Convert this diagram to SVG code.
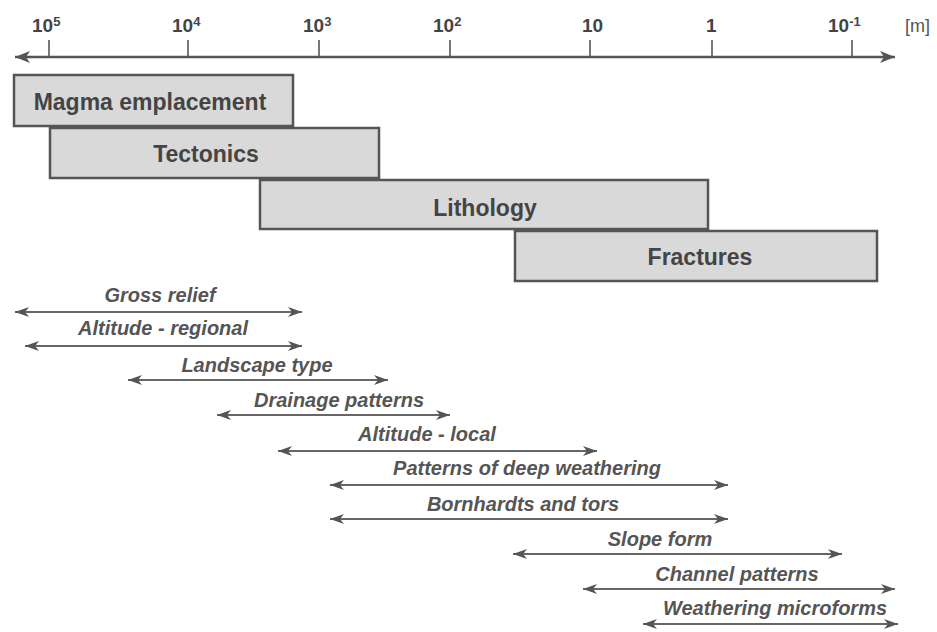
<svg xmlns="http://www.w3.org/2000/svg" width="937" height="632" viewBox="0 0 937 632">
<style>
.axl{font-family:"Liberation Sans",Arial,sans-serif;font-weight:bold;font-size:19px;fill:#444}
.sup{font-size:13px}
.unit{font-family:"Liberation Sans",Arial,sans-serif;font-size:18px;fill:#555}
.box{fill:#d9d9d9;stroke:#555;stroke-width:2.5}
.bl{font-family:"Liberation Sans",Arial,sans-serif;font-weight:bold;font-size:23px;fill:#444;text-anchor:middle}
.al{font-family:"Liberation Sans",Arial,sans-serif;font-weight:bold;font-style:italic;font-size:20px;fill:#555;text-anchor:middle}
.rng{stroke:#666;stroke-width:2;fill:none;marker-start:url(#ah);marker-end:url(#ah)}
.tick{stroke:#555;stroke-width:1.6}
</style>
<defs>
<marker id="ah" markerUnits="userSpaceOnUse" markerWidth="15" markerHeight="12" refX="14" refY="5" orient="auto-start-reverse" viewBox="0 0 15 10">
<path d="M0,0 L14,5 L0,10 L4,5 z" fill="#555"/>
</marker>
<marker id="axh" markerUnits="userSpaceOnUse" markerWidth="16" markerHeight="14" refX="15" refY="6" orient="auto-start-reverse" viewBox="0 0 16 12">
<path d="M0,0 L15,6 L0,12 L4,6 z" fill="#555"/>
</marker>
</defs>
<g id="axis">
<line x1="15" y1="57" x2="895" y2="57" stroke="#555" stroke-width="2.5" marker-start="url(#axh)" marker-end="url(#axh)"/>
<line class="tick" x1="49" y1="40" x2="49" y2="57"/>
<line class="tick" x1="188" y1="40" x2="188" y2="57"/>
<line class="tick" x1="319" y1="40" x2="319" y2="57"/>
<line class="tick" x1="450" y1="40" x2="450" y2="57"/>
<line class="tick" x1="590" y1="40" x2="590" y2="57"/>
<line class="tick" x1="712" y1="40" x2="712" y2="57"/>
<line class="tick" x1="852" y1="40" x2="852" y2="57"/>
<text class="axl" x="32" y="32">10<tspan class="sup" dy="-6">5</tspan></text>
<text class="axl" x="172" y="32">10<tspan class="sup" dy="-6">4</tspan></text>
<text class="axl" x="303" y="32">10<tspan class="sup" dy="-6">3</tspan></text>
<text class="axl" x="433" y="32">10<tspan class="sup" dy="-6">2</tspan></text>
<text class="axl" x="582" y="32">10</text>
<text class="axl" x="706" y="32">1</text>
<text class="axl" x="828" y="32">10<tspan class="sup" dy="-6">-1</tspan></text>
<text class="unit" x="905" y="32">[m]</text>
</g>
<g id="magma">
<rect class="box" x="14" y="75" width="279" height="51"/>
<text class="bl" x="150" y="110">Magma emplacement</text>
</g>
<g id="tectonics">
<rect class="box" x="50" y="128" width="329" height="50"/>
<text class="bl" x="206" y="162">Tectonics</text>
</g>
<g id="lithology">
<rect class="box" x="260" y="180" width="448" height="49"/>
<text class="bl" x="485" y="216">Lithology</text>
</g>
<g id="fractures">
<rect class="box" x="515" y="231" width="362" height="50"/>
<text class="bl" x="700" y="265">Fractures</text>
</g>
<g id="connectors">
<line class="rng" x1="15" y1="312" x2="302" y2="312"/>
<line class="rng" x1="25" y1="346" x2="302" y2="346"/>
<line class="rng" x1="128" y1="380" x2="388" y2="380"/>
<line class="rng" x1="217" y1="415" x2="450" y2="415"/>
<line class="rng" x1="278" y1="451" x2="597" y2="451"/>
<line class="rng" x1="330" y1="485" x2="728" y2="485"/>
<line class="rng" x1="330" y1="519" x2="728" y2="519"/>
<line class="rng" x1="513" y1="554" x2="842" y2="554"/>
<line class="rng" x1="583" y1="589" x2="895" y2="589"/>
<line class="rng" x1="643" y1="624" x2="898" y2="624"/>
</g>
<g id="range-labels">
<text class="al" x="160" y="302">Gross relief</text>
<text class="al" x="163" y="335">Altitude - regional</text>
<text class="al" x="257" y="372">Landscape type</text>
<text class="al" x="339" y="407">Drainage patterns</text>
<text class="al" x="427" y="441">Altitude - local</text>
<text class="al" x="527" y="475">Patterns of deep weathering</text>
<text class="al" x="523" y="511">Bornhardts and tors</text>
<text class="al" x="660" y="546">Slope form</text>
<text class="al" x="737" y="581">Channel patterns</text>
<text class="al" x="775" y="615">Weathering microforms</text>
</g>
</svg>
